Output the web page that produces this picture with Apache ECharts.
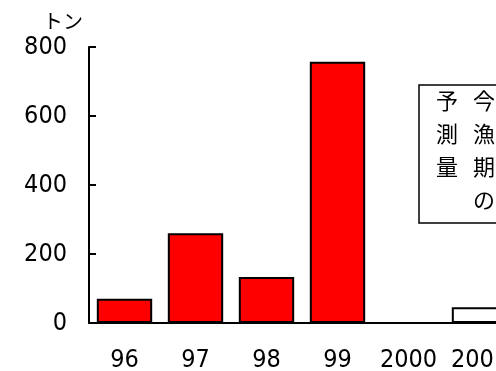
<!DOCTYPE html>
<html><head><meta charset="utf-8">
<script src="https://cdn.jsdelivr.net/npm/echarts@6/dist/echarts.min.js"></script>
<style>html,body{margin:0;padding:0;background:#fff}#c{width:496px;height:371px}</style>
</head><body><div id="c"></div>
<script>
const categories = ['96', '97', '98', '99', '2000', '2001'];
const values = [70, 260, 133, 757, null, 46];
const fills = ['#ff0000', '#ff0000', '#ff0000', '#ff0000', '#ff0000', '#ffffff'];
const yTicks = [0, 200, 400, 600, 800];
const unitLabel = 'トン';
const noteCol1 = '今漁期の';
const noteCol2 = '予測量';

const numFont = '"DejaVu Sans Condensed", "Liberation Sans Narrow", sans-serif';
const jpFont = '"Noto Sans CJK JP", sans-serif';

const chart = echarts.init(document.getElementById('c'));
chart.setOption({
  animation: false,
  grid: { left: 89, top: 47, bottom: 48, width: 426, outerBoundsMode: 'none', containLabel: false },
  xAxis: {
    type: 'category', data: categories,
    axisLine: { lineStyle: { color: '#000', width: 2 } },
    axisTick: { show: false },
    axisLabel: { color: '#000', fontFamily: numFont, fontSize: 25, margin: 25, interval: 0, hideOverlap: false }
  },
  yAxis: {
    type: 'value', min: yTicks[0], max: yTicks[yTicks.length - 1], interval: 200,
    axisLine: { show: true, lineStyle: { color: '#000', width: 2 } },
    axisTick: { show: true, inside: true, length: 7, lineStyle: { color: '#000', width: 2 } },
    splitLine: { show: false },
    axisLabel: { color: '#000', fontFamily: numFont, fontSize: 25, margin: 22 }
  },
  series: [{
    type: 'bar', barCategoryGap: '22%',
    data: values.map((v, i) => ({ value: v, itemStyle: { color: fills[i], borderColor: '#000', borderWidth: 2 } }))
  }],
  graphic: [
    { type: 'text', left: 43, top: 11, style: { text: unitLabel, font: '20px ' + jpFont, fill: '#000' } },
    { type: 'rect', shape: { x: 419, y: 85, width: 120, height: 138 }, style: { fill: '#fff', stroke: '#000', lineWidth: 1.5 } },
    { type: 'text', x: 484, y: 84, style: { text: noteCol1.split('').join('\n'), font: '22px ' + jpFont, lineHeight: 33, fill: '#000', align: 'center', verticalAlign: 'top' } },
    { type: 'text', x: 447, y: 84, style: { text: noteCol2.split('').join('\n'), font: '22px ' + jpFont, lineHeight: 33, fill: '#000', align: 'center', verticalAlign: 'top' } }
  ]
});
</script></body></html>
